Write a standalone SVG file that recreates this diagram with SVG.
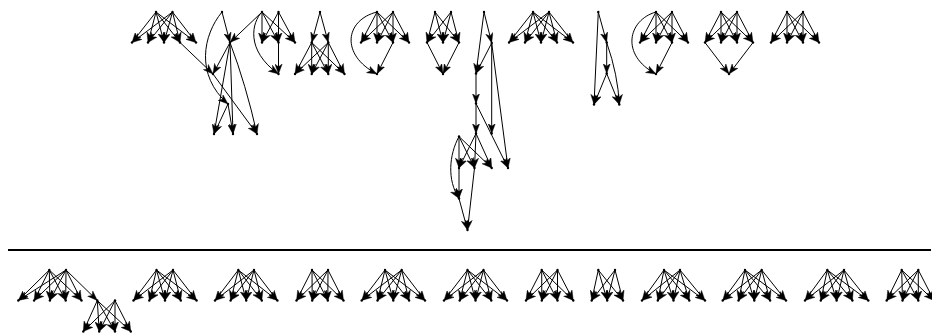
<svg xmlns="http://www.w3.org/2000/svg" width="932" height="334" viewBox="0 0 932 334">
<style>
.e{fill:none;stroke:#000;stroke-width:1;marker-end:url(#ah)}
.node circle{fill:#000}
.sep{stroke:#000;stroke-width:2}
</style>
<defs>
<marker id="ah" viewBox="0 0 10 8" refX="10" refY="4" markerWidth="10" markerHeight="8" markerUnits="userSpaceOnUse" orient="auto"><path d="M0,0.3 L10,4 L0,7.7 L2.8,4 Z" fill="#000" stroke="#000" stroke-width="0.4" stroke-linejoin="miter"/></marker>
</defs>
<rect width="932" height="334" fill="#fff"/>

<!-- connectors -->
<g id="edges">
<!-- A -->
<path class="e" d="M156 12L132 42.5"/><path class="e" d="M156 12L148 42.5"/><path class="e" d="M156 12L164 42.5"/><path class="e" d="M156 12L180 42.5"/><path class="e" d="M156 12L196 42.5"/>
<path class="e" d="M172.5 12L132 42.5"/><path class="e" d="M172.5 12L148 42.5"/><path class="e" d="M172.5 12L164 42.5"/><path class="e" d="M172.5 12L180 42.5"/><path class="e" d="M172.5 12L196 42.5"/>
<path class="e" d="M180 42.5L213 74"/>
<!-- B -->
<path class="e" d="M222 12L230 42.5"/>
<path class="e" d="M222 12C203 35 195 75 228 104"/>
<path class="e" d="M230 42.5L213 74"/>
<path class="e" d="M230 42.5L214 134"/>
<path class="e" d="M230 42.5L233 134"/>
<path class="e" d="M230 42.5Q246 85 257 134"/>
<path class="e" d="M213 74L257 134"/>
<path class="e" d="M228 104L214 134"/>
<path class="e" d="M228 104L233 134"/>
<!-- C -->
<path class="e" d="M262 12L230 42.5"/>
<path class="e" d="M262 12L262 42.5"/><path class="e" d="M262 12L278.5 42.5"/><path class="e" d="M262 12L295 42.5"/>
<path class="e" d="M278.5 12L262 42.5"/><path class="e" d="M278.5 12L278.5 42.5"/><path class="e" d="M278.5 12L295 42.5"/>
<path class="e" d="M262 12C252 22 245 50 278.5 74"/>
<path class="e" d="M278.5 42.5L278.5 74"/>
<!-- D -->
<path class="e" d="M320 12L311.7 42.5"/><path class="e" d="M320 12L328.3 42.5"/>
<path class="e" d="M311.7 42.5L295 74"/><path class="e" d="M311.7 42.5L311.7 74"/><path class="e" d="M311.7 42.5L328.3 74"/><path class="e" d="M311.7 42.5L344.5 74"/>
<path class="e" d="M328.3 42.5L295 74"/><path class="e" d="M328.3 42.5L311.7 74"/><path class="e" d="M328.3 42.5L328.3 74"/><path class="e" d="M328.3 42.5L344.5 74"/>
<!-- E -->
<path class="e" d="M377 12L361 42.5"/><path class="e" d="M377 12L377 42.5"/><path class="e" d="M377 12L393 42.5"/><path class="e" d="M377 12L409 42.5"/>
<path class="e" d="M393 12L361 42.5"/><path class="e" d="M393 12L377 42.5"/><path class="e" d="M393 12L393 42.5"/><path class="e" d="M393 12L409 42.5"/>
<path class="e" d="M377 12C345 20 340 55 377 74"/>
<path class="e" d="M393 42.5L377 74"/>
<!-- F -->
<path class="e" d="M435 12L427 42.5"/><path class="e" d="M435 12L443 42.5"/><path class="e" d="M435 12L459 42.5"/>
<path class="e" d="M451 12L427 42.5"/><path class="e" d="M451 12L443 42.5"/><path class="e" d="M451 12L459 42.5"/>
<path class="e" d="M427 42.5L443 74"/><path class="e" d="M459 42.5L443 74"/>
<!-- G -->
<path class="e" d="M484 12L491.7 43"/>
<path class="e" d="M484 12L476 73.5"/>
<path class="e" d="M491.7 43L476 73.5"/>
<path class="e" d="M491.7 43L491.7 133.5"/>
<path class="e" d="M491.7 43L508 168"/>
<path class="e" d="M476 73.5L476 103.5"/>
<path class="e" d="M476 103.5L476 133.5"/>
<path class="e" d="M476 103.5L508 168"/>
<path class="e" d="M476 133.5L459 168"/><path class="e" d="M476 133.5L474.5 168"/><path class="e" d="M476 133.5L491.7 168"/>
<path class="e" d="M459 136.5L459 168"/><path class="e" d="M459 136.5L474.5 168"/><path class="e" d="M459 136.5L491.7 168"/>
<path class="e" d="M459 136.5C449 155 447 180 459 198.5"/>
<path class="e" d="M459 168L459 198.5"/>
<path class="e" d="M474.5 168L467.5 230"/>
<path class="e" d="M459 198.5L467.5 230"/>
<!-- H -->
<path class="e" d="M533 12L509 42.5"/><path class="e" d="M533 12L525 42.5"/><path class="e" d="M533 12L541 42.5"/><path class="e" d="M533 12L557 42.5"/><path class="e" d="M533 12L573 42.5"/>
<path class="e" d="M549 12L509 42.5"/><path class="e" d="M549 12L525 42.5"/><path class="e" d="M549 12L541 42.5"/><path class="e" d="M549 12L557 42.5"/><path class="e" d="M549 12L573 42.5"/>
<!-- I -->
<path class="e" d="M598.3 12L606.7 42.5"/>
<path class="e" d="M598.3 12L594 104.5"/>
<path class="e" d="M606.7 42.5L606.7 73.5"/>
<path class="e" d="M606.7 73.5L594 104.5"/>
<path class="e" d="M606.7 73.5L619.3 104.5"/>
<path class="e" d="M606.7 42.5Q618 75 619.3 104.5"/>
<!-- J -->
<path class="e" d="M656 12L640 42.5"/><path class="e" d="M656 12L656 42.5"/><path class="e" d="M656 12L672 42.5"/><path class="e" d="M656 12L688 42.5"/>
<path class="e" d="M672 12L640 42.5"/><path class="e" d="M672 12L656 42.5"/><path class="e" d="M672 12L672 42.5"/><path class="e" d="M672 12L688 42.5"/>
<path class="e" d="M656 12C628 20 620 55 656 74"/>
<path class="e" d="M672 42.5L656 74"/>
<!-- K -->
<path class="e" d="M721 12L705 42.5"/><path class="e" d="M721 12L721 42.5"/><path class="e" d="M721 12L737 42.5"/><path class="e" d="M721 12L753 42.5"/>
<path class="e" d="M737 12L705 42.5"/><path class="e" d="M737 12L721 42.5"/><path class="e" d="M737 12L737 42.5"/><path class="e" d="M737 12L753 42.5"/>
<path class="e" d="M705 42.5L729 74"/><path class="e" d="M753 42.5L729 74"/>
<!-- L -->
<path class="e" d="M787 12L771 42.5"/><path class="e" d="M787 12L787 42.5"/><path class="e" d="M787 12L803 42.5"/><path class="e" d="M787 12L819 42.5"/>
<path class="e" d="M803 12L771 42.5"/><path class="e" d="M803 12L787 42.5"/><path class="e" d="M803 12L803 42.5"/><path class="e" d="M803 12L819 42.5"/>

<!-- M -->
<path class="e" d="M49.3 270L18.3 300.5"/><path class="e" d="M49.3 270L34.1 300.5"/><path class="e" d="M49.3 270L49.9 300.5"/><path class="e" d="M49.3 270L65.7 300.5"/><path class="e" d="M49.3 270L81.5 300.5"/>
<path class="e" d="M66 270L18.3 300.5"/><path class="e" d="M66 270L34.1 300.5"/><path class="e" d="M66 270L49.9 300.5"/><path class="e" d="M66 270L65.7 300.5"/><path class="e" d="M66 270L81.5 300.5"/><path class="e" d="M66 270L97.3 300.5"/>
<path class="e" d="M97.3 300.5L83.3 331.5"/><path class="e" d="M97.3 300.5L99.2 331.5"/><path class="e" d="M97.3 300.5L115 331.5"/><path class="e" d="M97.3 300.5L130.8 331.5"/>
<path class="e" d="M115 300.5L83.3 331.5"/><path class="e" d="M115 300.5L99.2 331.5"/><path class="e" d="M115 300.5L115 331.5"/><path class="e" d="M115 300.5L130.8 331.5"/>
<!-- N -->
<path class="e" d="M156.5 270L133.5 300.5"/><path class="e" d="M156.5 270L149.3 300.5"/><path class="e" d="M156.5 270L165 300.5"/><path class="e" d="M156.5 270L180.8 300.5"/><path class="e" d="M156.5 270L196.6 300.5"/>
<path class="e" d="M173 270L133.5 300.5"/><path class="e" d="M173 270L149.3 300.5"/><path class="e" d="M173 270L165 300.5"/><path class="e" d="M173 270L180.8 300.5"/><path class="e" d="M173 270L196.6 300.5"/>
<!-- O -->
<path class="e" d="M238.3 270L215 300.5"/><path class="e" d="M238.3 270L230.6 300.5"/><path class="e" d="M238.3 270L246.2 300.5"/><path class="e" d="M238.3 270L261.8 300.5"/><path class="e" d="M238.3 270L277.4 300.5"/>
<path class="e" d="M254 270L215 300.5"/><path class="e" d="M254 270L230.6 300.5"/><path class="e" d="M254 270L246.2 300.5"/><path class="e" d="M254 270L261.8 300.5"/><path class="e" d="M254 270L277.4 300.5"/>
<!-- P -->
<path class="e" d="M312 270L296.5 300.5"/><path class="e" d="M312 270L312.2 300.5"/><path class="e" d="M312 270L327.8 300.5"/><path class="e" d="M312 270L343.5 300.5"/>
<path class="e" d="M328 270L296.5 300.5"/><path class="e" d="M328 270L312.2 300.5"/><path class="e" d="M328 270L327.8 300.5"/><path class="e" d="M328 270L343.5 300.5"/>
<!-- Q -->
<path class="e" d="M385 270L361.7 300.5"/><path class="e" d="M385 270L377.5 300.5"/><path class="e" d="M385 270L393.3 300.5"/><path class="e" d="M385 270L409.1 300.5"/><path class="e" d="M385 270L425 300.5"/>
<path class="e" d="M401.7 270L361.7 300.5"/><path class="e" d="M401.7 270L377.5 300.5"/><path class="e" d="M401.7 270L393.3 300.5"/><path class="e" d="M401.7 270L409.1 300.5"/><path class="e" d="M401.7 270L425 300.5"/>
<!-- R -->
<path class="e" d="M467.5 270L444 300.5"/><path class="e" d="M467.5 270L459.7 300.5"/><path class="e" d="M467.5 270L475.5 300.5"/><path class="e" d="M467.5 270L491.3 300.5"/><path class="e" d="M467.5 270L507 300.5"/>
<path class="e" d="M483.5 270L444 300.5"/><path class="e" d="M483.5 270L459.7 300.5"/><path class="e" d="M483.5 270L475.5 300.5"/><path class="e" d="M483.5 270L491.3 300.5"/><path class="e" d="M483.5 270L507 300.5"/>
<!-- S -->
<path class="e" d="M541.7 270L526 300.5"/><path class="e" d="M541.7 270L541.8 300.5"/><path class="e" d="M541.7 270L557.5 300.5"/><path class="e" d="M541.7 270L573.3 300.5"/>
<path class="e" d="M557.5 270L526 300.5"/><path class="e" d="M557.5 270L541.8 300.5"/><path class="e" d="M557.5 270L557.5 300.5"/><path class="e" d="M557.5 270L573.3 300.5"/>
<!-- T -->
<path class="e" d="M598.3 270L591.7 300.5"/><path class="e" d="M598.3 270L607.2 300.5"/><path class="e" d="M598.3 270L623 300.5"/>
<path class="e" d="M615 270L591.7 300.5"/><path class="e" d="M615 270L607.2 300.5"/><path class="e" d="M615 270L623 300.5"/>
<!-- U -->
<path class="e" d="M664 270L642 300.5"/><path class="e" d="M664 270L657.8 300.5"/><path class="e" d="M664 270L673.5 300.5"/><path class="e" d="M664 270L689.3 300.5"/><path class="e" d="M664 270L705 300.5"/>
<path class="e" d="M680 270L642 300.5"/><path class="e" d="M680 270L657.8 300.5"/><path class="e" d="M680 270L673.5 300.5"/><path class="e" d="M680 270L689.3 300.5"/><path class="e" d="M680 270L705 300.5"/>
<!-- V -->
<path class="e" d="M745 270L722.7 300.5"/><path class="e" d="M745 270L738.5 300.5"/><path class="e" d="M745 270L754.3 300.5"/><path class="e" d="M745 270L770.1 300.5"/><path class="e" d="M745 270L786 300.5"/>
<path class="e" d="M761.7 270L722.7 300.5"/><path class="e" d="M761.7 270L738.5 300.5"/><path class="e" d="M761.7 270L754.3 300.5"/><path class="e" d="M761.7 270L770.1 300.5"/><path class="e" d="M761.7 270L786 300.5"/>
<!-- W -->
<path class="e" d="M827.3 270L805 300.5"/><path class="e" d="M827.3 270L820.8 300.5"/><path class="e" d="M827.3 270L836.6 300.5"/><path class="e" d="M827.3 270L852.4 300.5"/><path class="e" d="M827.3 270L868.3 300.5"/>
<path class="e" d="M844 270L805 300.5"/><path class="e" d="M844 270L820.8 300.5"/><path class="e" d="M844 270L836.6 300.5"/><path class="e" d="M844 270L852.4 300.5"/><path class="e" d="M844 270L868.3 300.5"/>
<!-- X -->
<path class="e" d="M901.7 270L886.7 300.5"/><path class="e" d="M901.7 270L902.5 300.5"/><path class="e" d="M901.7 270L918.3 300.5"/><path class="e" d="M901.7 270L934 300.5"/>
<path class="e" d="M918.3 270L886.7 300.5"/><path class="e" d="M918.3 270L902.5 300.5"/><path class="e" d="M918.3 270L918.3 300.5"/><path class="e" d="M918.3 270L934 300.5"/>
</g>

<!-- divider between the two halves -->
<line class="sep" x1="8" y1="250" x2="931" y2="250"/>

<!-- nodes -->
<g id="nodes">
<g id="a1" class="node"><circle cx="156" cy="12" r="1.2"/></g>
<g id="a2" class="node"><circle cx="172.5" cy="12" r="1.2"/></g>
<g id="a3" class="node"><circle cx="132" cy="42.5" r="1.2"/></g>
<g id="a4" class="node"><circle cx="148" cy="42.5" r="1.2"/></g>
<g id="a5" class="node"><circle cx="164" cy="42.5" r="1.2"/></g>
<g id="a6" class="node"><circle cx="180" cy="42.5" r="1.2"/></g>
<g id="a7" class="node"><circle cx="196" cy="42.5" r="1.2"/></g>
<g id="b1" class="node"><circle cx="222" cy="12" r="1.2"/></g>
<g id="b2" class="node"><circle cx="230" cy="42.5" r="1.2"/></g>
<g id="b3" class="node"><circle cx="213" cy="74" r="1.2"/></g>
<g id="b4" class="node"><circle cx="228" cy="104" r="1.2"/></g>
<g id="b5" class="node"><circle cx="214" cy="134" r="1.2"/></g>
<g id="b6" class="node"><circle cx="233" cy="134" r="1.2"/></g>
<g id="b7" class="node"><circle cx="257" cy="134" r="1.2"/></g>
<g id="c1" class="node"><circle cx="262" cy="12" r="1.2"/></g>
<g id="c2" class="node"><circle cx="278.5" cy="12" r="1.2"/></g>
<g id="c3" class="node"><circle cx="262" cy="42.5" r="1.2"/></g>
<g id="c4" class="node"><circle cx="278.5" cy="42.5" r="1.2"/></g>
<g id="c5" class="node"><circle cx="295" cy="42.5" r="1.2"/></g>
<g id="c6" class="node"><circle cx="278.5" cy="74" r="1.2"/></g>
<g id="d1" class="node"><circle cx="320" cy="12" r="1.2"/></g>
<g id="d2" class="node"><circle cx="311.7" cy="42.5" r="1.2"/></g>
<g id="d3" class="node"><circle cx="328.3" cy="42.5" r="1.2"/></g>
<g id="d4" class="node"><circle cx="295" cy="74" r="1.2"/></g>
<g id="d5" class="node"><circle cx="311.7" cy="74" r="1.2"/></g>
<g id="d6" class="node"><circle cx="328.3" cy="74" r="1.2"/></g>
<g id="d7" class="node"><circle cx="344.5" cy="74" r="1.2"/></g>
<g id="e1" class="node"><circle cx="377" cy="12" r="1.2"/></g>
<g id="e2" class="node"><circle cx="393" cy="12" r="1.2"/></g>
<g id="e3" class="node"><circle cx="361" cy="42.5" r="1.2"/></g>
<g id="e4" class="node"><circle cx="377" cy="42.5" r="1.2"/></g>
<g id="e5" class="node"><circle cx="393" cy="42.5" r="1.2"/></g>
<g id="e6" class="node"><circle cx="409" cy="42.5" r="1.2"/></g>
<g id="e7" class="node"><circle cx="377" cy="74" r="1.2"/></g>
<g id="f1" class="node"><circle cx="435" cy="12" r="1.2"/></g>
<g id="f2" class="node"><circle cx="451" cy="12" r="1.2"/></g>
<g id="f3" class="node"><circle cx="427" cy="42.5" r="1.2"/></g>
<g id="f4" class="node"><circle cx="443" cy="42.5" r="1.2"/></g>
<g id="f5" class="node"><circle cx="459" cy="42.5" r="1.2"/></g>
<g id="f6" class="node"><circle cx="443" cy="74" r="1.2"/></g>
<g id="g1" class="node"><circle cx="484" cy="12" r="1.2"/></g>
<g id="g2" class="node"><circle cx="491.7" cy="43" r="1.2"/></g>
<g id="g3" class="node"><circle cx="476" cy="73.5" r="1.2"/></g>
<g id="g4" class="node"><circle cx="476" cy="103.5" r="1.2"/></g>
<g id="g5" class="node"><circle cx="476" cy="133.5" r="1.2"/></g>
<g id="g6" class="node"><circle cx="491.7" cy="133.5" r="1.2"/></g>
<g id="g7" class="node"><circle cx="508" cy="168" r="1.2"/></g>
<g id="g8" class="node"><circle cx="459" cy="136.5" r="1.2"/></g>
<g id="g9" class="node"><circle cx="459" cy="168" r="1.2"/></g>
<g id="g10" class="node"><circle cx="474.5" cy="168" r="1.2"/></g>
<g id="g11" class="node"><circle cx="491.7" cy="168" r="1.2"/></g>
<g id="g12" class="node"><circle cx="459" cy="198.5" r="1.2"/></g>
<g id="g13" class="node"><circle cx="467.5" cy="230" r="1.2"/></g>
<g id="h1" class="node"><circle cx="533" cy="12" r="1.2"/></g>
<g id="h2" class="node"><circle cx="549" cy="12" r="1.2"/></g>
<g id="h3" class="node"><circle cx="509" cy="42.5" r="1.2"/></g>
<g id="h4" class="node"><circle cx="525" cy="42.5" r="1.2"/></g>
<g id="h5" class="node"><circle cx="541" cy="42.5" r="1.2"/></g>
<g id="h6" class="node"><circle cx="557" cy="42.5" r="1.2"/></g>
<g id="h7" class="node"><circle cx="573" cy="42.5" r="1.2"/></g>
<g id="i1" class="node"><circle cx="598.3" cy="12" r="1.2"/></g>
<g id="i2" class="node"><circle cx="606.7" cy="42.5" r="1.2"/></g>
<g id="i3" class="node"><circle cx="606.7" cy="73.5" r="1.2"/></g>
<g id="i4" class="node"><circle cx="594" cy="104.5" r="1.2"/></g>
<g id="i5" class="node"><circle cx="619.3" cy="104.5" r="1.2"/></g>
<g id="j1" class="node"><circle cx="656" cy="12" r="1.2"/></g>
<g id="j2" class="node"><circle cx="672" cy="12" r="1.2"/></g>
<g id="j3" class="node"><circle cx="640" cy="42.5" r="1.2"/></g>
<g id="j4" class="node"><circle cx="656" cy="42.5" r="1.2"/></g>
<g id="j5" class="node"><circle cx="672" cy="42.5" r="1.2"/></g>
<g id="j6" class="node"><circle cx="688" cy="42.5" r="1.2"/></g>
<g id="j7" class="node"><circle cx="656" cy="74" r="1.2"/></g>
<g id="k1" class="node"><circle cx="721" cy="12" r="1.2"/></g>
<g id="k2" class="node"><circle cx="737" cy="12" r="1.2"/></g>
<g id="k3" class="node"><circle cx="705" cy="42.5" r="1.2"/></g>
<g id="k4" class="node"><circle cx="721" cy="42.5" r="1.2"/></g>
<g id="k5" class="node"><circle cx="737" cy="42.5" r="1.2"/></g>
<g id="k6" class="node"><circle cx="753" cy="42.5" r="1.2"/></g>
<g id="k7" class="node"><circle cx="729" cy="74" r="1.2"/></g>
<g id="l1" class="node"><circle cx="787" cy="12" r="1.2"/></g>
<g id="l2" class="node"><circle cx="803" cy="12" r="1.2"/></g>
<g id="l3" class="node"><circle cx="771" cy="42.5" r="1.2"/></g>
<g id="l4" class="node"><circle cx="787" cy="42.5" r="1.2"/></g>
<g id="l5" class="node"><circle cx="803" cy="42.5" r="1.2"/></g>
<g id="l6" class="node"><circle cx="819" cy="42.5" r="1.2"/></g>

<g id="m1" class="node"><circle cx="49.3" cy="270" r="1.2"/></g>
<g id="m2" class="node"><circle cx="66" cy="270" r="1.2"/></g>
<g id="m3" class="node"><circle cx="18.3" cy="300.5" r="1.2"/></g>
<g id="m4" class="node"><circle cx="34.1" cy="300.5" r="1.2"/></g>
<g id="m5" class="node"><circle cx="49.9" cy="300.5" r="1.2"/></g>
<g id="m6" class="node"><circle cx="65.7" cy="300.5" r="1.2"/></g>
<g id="m7" class="node"><circle cx="81.5" cy="300.5" r="1.2"/></g>
<g id="m8" class="node"><circle cx="97.3" cy="300.5" r="1.2"/></g>
<g id="m9" class="node"><circle cx="115" cy="300.5" r="1.2"/></g>
<g id="m10" class="node"><circle cx="83.3" cy="331.5" r="1.2"/></g>
<g id="m11" class="node"><circle cx="99.2" cy="331.5" r="1.2"/></g>
<g id="m12" class="node"><circle cx="115" cy="331.5" r="1.2"/></g>
<g id="m13" class="node"><circle cx="130.8" cy="331.5" r="1.2"/></g>
<g id="n1" class="node"><circle cx="156.5" cy="270" r="1.2"/></g>
<g id="n2" class="node"><circle cx="173" cy="270" r="1.2"/></g>
<g id="n3" class="node"><circle cx="133.5" cy="300.5" r="1.2"/></g>
<g id="n4" class="node"><circle cx="149.3" cy="300.5" r="1.2"/></g>
<g id="n5" class="node"><circle cx="165" cy="300.5" r="1.2"/></g>
<g id="n6" class="node"><circle cx="180.8" cy="300.5" r="1.2"/></g>
<g id="n7" class="node"><circle cx="196.6" cy="300.5" r="1.2"/></g>
<g id="o1" class="node"><circle cx="238.3" cy="270" r="1.2"/></g>
<g id="o2" class="node"><circle cx="254" cy="270" r="1.2"/></g>
<g id="o3" class="node"><circle cx="215" cy="300.5" r="1.2"/></g>
<g id="o4" class="node"><circle cx="230.6" cy="300.5" r="1.2"/></g>
<g id="o5" class="node"><circle cx="246.2" cy="300.5" r="1.2"/></g>
<g id="o6" class="node"><circle cx="261.8" cy="300.5" r="1.2"/></g>
<g id="o7" class="node"><circle cx="277.4" cy="300.5" r="1.2"/></g>
<g id="p1" class="node"><circle cx="312" cy="270" r="1.2"/></g>
<g id="p2" class="node"><circle cx="328" cy="270" r="1.2"/></g>
<g id="p3" class="node"><circle cx="296.5" cy="300.5" r="1.2"/></g>
<g id="p4" class="node"><circle cx="312.2" cy="300.5" r="1.2"/></g>
<g id="p5" class="node"><circle cx="327.8" cy="300.5" r="1.2"/></g>
<g id="p6" class="node"><circle cx="343.5" cy="300.5" r="1.2"/></g>
<g id="q1" class="node"><circle cx="385" cy="270" r="1.2"/></g>
<g id="q2" class="node"><circle cx="401.7" cy="270" r="1.2"/></g>
<g id="q3" class="node"><circle cx="361.7" cy="300.5" r="1.2"/></g>
<g id="q4" class="node"><circle cx="377.5" cy="300.5" r="1.2"/></g>
<g id="q5" class="node"><circle cx="393.3" cy="300.5" r="1.2"/></g>
<g id="q6" class="node"><circle cx="409.1" cy="300.5" r="1.2"/></g>
<g id="q7" class="node"><circle cx="425" cy="300.5" r="1.2"/></g>
<g id="r1" class="node"><circle cx="467.5" cy="270" r="1.2"/></g>
<g id="r2" class="node"><circle cx="483.5" cy="270" r="1.2"/></g>
<g id="r3" class="node"><circle cx="444" cy="300.5" r="1.2"/></g>
<g id="r4" class="node"><circle cx="459.7" cy="300.5" r="1.2"/></g>
<g id="r5" class="node"><circle cx="475.5" cy="300.5" r="1.2"/></g>
<g id="r6" class="node"><circle cx="491.3" cy="300.5" r="1.2"/></g>
<g id="r7" class="node"><circle cx="507" cy="300.5" r="1.2"/></g>
<g id="s1" class="node"><circle cx="541.7" cy="270" r="1.2"/></g>
<g id="s2" class="node"><circle cx="557.5" cy="270" r="1.2"/></g>
<g id="s3" class="node"><circle cx="526" cy="300.5" r="1.2"/></g>
<g id="s4" class="node"><circle cx="541.8" cy="300.5" r="1.2"/></g>
<g id="s5" class="node"><circle cx="557.5" cy="300.5" r="1.2"/></g>
<g id="s6" class="node"><circle cx="573.3" cy="300.5" r="1.2"/></g>
<g id="t1" class="node"><circle cx="598.3" cy="270" r="1.2"/></g>
<g id="t2" class="node"><circle cx="615" cy="270" r="1.2"/></g>
<g id="t3" class="node"><circle cx="591.7" cy="300.5" r="1.2"/></g>
<g id="t4" class="node"><circle cx="607.2" cy="300.5" r="1.2"/></g>
<g id="t5" class="node"><circle cx="623" cy="300.5" r="1.2"/></g>
<g id="u1" class="node"><circle cx="664" cy="270" r="1.2"/></g>
<g id="u2" class="node"><circle cx="680" cy="270" r="1.2"/></g>
<g id="u3" class="node"><circle cx="642" cy="300.5" r="1.2"/></g>
<g id="u4" class="node"><circle cx="657.8" cy="300.5" r="1.2"/></g>
<g id="u5" class="node"><circle cx="673.5" cy="300.5" r="1.2"/></g>
<g id="u6" class="node"><circle cx="689.3" cy="300.5" r="1.2"/></g>
<g id="u7" class="node"><circle cx="705" cy="300.5" r="1.2"/></g>
<g id="v1" class="node"><circle cx="745" cy="270" r="1.2"/></g>
<g id="v2" class="node"><circle cx="761.7" cy="270" r="1.2"/></g>
<g id="v3" class="node"><circle cx="722.7" cy="300.5" r="1.2"/></g>
<g id="v4" class="node"><circle cx="738.5" cy="300.5" r="1.2"/></g>
<g id="v5" class="node"><circle cx="754.3" cy="300.5" r="1.2"/></g>
<g id="v6" class="node"><circle cx="770.1" cy="300.5" r="1.2"/></g>
<g id="v7" class="node"><circle cx="786" cy="300.5" r="1.2"/></g>
<g id="w1" class="node"><circle cx="827.3" cy="270" r="1.2"/></g>
<g id="w2" class="node"><circle cx="844" cy="270" r="1.2"/></g>
<g id="w3" class="node"><circle cx="805" cy="300.5" r="1.2"/></g>
<g id="w4" class="node"><circle cx="820.8" cy="300.5" r="1.2"/></g>
<g id="w5" class="node"><circle cx="836.6" cy="300.5" r="1.2"/></g>
<g id="w6" class="node"><circle cx="852.4" cy="300.5" r="1.2"/></g>
<g id="w7" class="node"><circle cx="868.3" cy="300.5" r="1.2"/></g>
<g id="x1" class="node"><circle cx="901.7" cy="270" r="1.2"/></g>
<g id="x2" class="node"><circle cx="918.3" cy="270" r="1.2"/></g>
<g id="x3" class="node"><circle cx="886.7" cy="300.5" r="1.2"/></g>
<g id="x4" class="node"><circle cx="902.5" cy="300.5" r="1.2"/></g>
<g id="x5" class="node"><circle cx="918.3" cy="300.5" r="1.2"/></g>
<g id="x6" class="node"><circle cx="934" cy="300.5" r="1.2"/></g>
</g>
</svg>
